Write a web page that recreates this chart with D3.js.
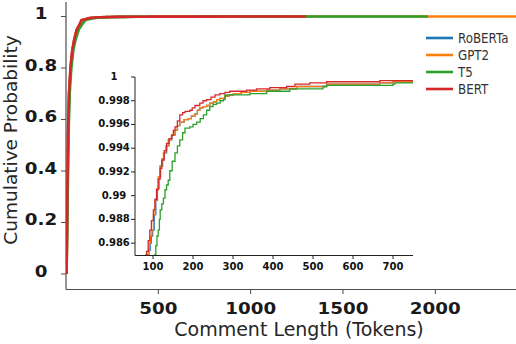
<!DOCTYPE html>
<html>
<head>
<meta charset="utf-8">
<script src="https://cdn.jsdelivr.net/npm/d3@7"></script>
<style>
  body { margin: 0; background: #fff; }
  text { font-family: "DejaVu Sans", Verdana, sans-serif; }
</style>
</head>
<body>
<script>
var models = ["RoBERTa", "GPT2", "T5", "BERT"];
var colors = ["#1f77b4", "#ff7f0e", "#2ca02c", "#d62728"];

var robertaTokens = [3, 8, 12, 17, 25, 35, 45, 60, 77, 88, 90, 93, 96, 99, 103, 107, 111, 115, 119, 124, 128, 134, 140, 147, 155, 161, 167, 178, 188, 196, 205, 211, 217, 225, 234, 242, 251, 259, 267, 280, 290, 301, 320, 342, 384, 417, 459, 534, 667, 700, 750, 1000, 1200];
var robertaProbs  = [0, 0.3, 0.55, 0.7, 0.8, 0.87, 0.91, 0.95, 0.97, 0.985, 0.9854, 0.9860, 0.9866, 0.9871, 0.9884, 0.9896, 0.9906, 0.9916, 0.9925, 0.9931, 0.9936, 0.9942, 0.9947, 0.9951, 0.9955, 0.9959, 0.9962, 0.9964, 0.9965, 0.9967, 0.9969, 0.9972, 0.9974, 0.9975, 0.9976, 0.9978, 0.9979, 0.9981, 0.9982, 0.9984, 0.9985, 0.9986, 0.9987, 0.9988, 0.9989, 0.9990, 0.9992, 0.9994, 0.9995, 0.9996, 0.9996, 0.9998, 1];

var gptTokens = [3, 8, 12, 17, 25, 35, 45, 60, 76, 86, 88, 91, 94, 97, 101, 105, 109, 113, 117, 122, 126, 132, 138, 146, 155, 161, 167, 178, 188, 196, 205, 211, 217, 225, 234, 242, 251, 259, 267, 280, 290, 301, 320, 342, 384, 417, 459, 534, 667, 700, 750, 1000, 1500, 2000, 2500];
var gptProbs  = [0, 0.3, 0.55, 0.7, 0.8, 0.87, 0.91, 0.95, 0.97, 0.985, 0.9854, 0.9860, 0.9866, 0.9871, 0.9884, 0.9896, 0.9906, 0.9916, 0.9925, 0.9931, 0.9936, 0.9942, 0.9947, 0.9951, 0.9955, 0.9959, 0.9962, 0.9964, 0.9965, 0.9967, 0.9969, 0.9972, 0.9974, 0.9975, 0.9976, 0.9978, 0.9979, 0.9981, 0.9982, 0.9984, 0.9985, 0.9986, 0.9987, 0.9988, 0.9989, 0.9990, 0.9992, 0.9994, 0.9995, 0.9996, 0.9996, 0.9998, 0.9999, 0.99995, 1];

var t5Tokens = [3, 9, 14, 20, 29, 40, 52, 70, 88, 104, 107, 110, 113, 116, 118, 122, 126, 130, 134, 138, 142, 148, 155, 161, 167, 174, 180, 192, 200, 209, 218, 226, 234, 242, 250, 259, 268, 276, 280, 317, 342, 384, 442, 525, 534, 700, 705, 750, 1000, 1500, 1960];
var t5Probs  = [0, 0.3, 0.55, 0.7, 0.8, 0.87, 0.91, 0.95, 0.97, 0.985, 0.9858, 0.9866, 0.9871, 0.9880, 0.9888, 0.9893, 0.9898, 0.9905, 0.9909, 0.9913, 0.9921, 0.9929, 0.9936, 0.9942, 0.9947, 0.9953, 0.9957, 0.9958, 0.9960, 0.9962, 0.9965, 0.9968, 0.9972, 0.9975, 0.9977, 0.9978, 0.9980, 0.9981, 0.9985, 0.9985, 0.9986, 0.9988, 0.9990, 0.9992, 0.9993, 0.9994, 0.9995, 0.9995, 0.9998, 0.9999, 1];

var bertTokens = [3, 7, 11, 16, 24, 34, 44, 58, 74, 82, 84, 88, 92, 96, 101, 105, 109, 113, 118, 122, 128, 134, 140, 147, 151, 155, 161, 167, 174, 180, 192, 198, 205, 217, 225, 234, 245, 255, 267, 280, 292, 334, 359, 392, 434, 455, 492, 534, 667, 750, 1000, 1300];
var bertProbs  = [0, 0.3, 0.55, 0.7, 0.8, 0.87, 0.91, 0.95, 0.97, 0.985, 0.9853, 0.9862, 0.9871, 0.9879, 0.9888, 0.9897, 0.9905, 0.9914, 0.9923, 0.9930, 0.9938, 0.9944, 0.9948, 0.9951, 0.9955, 0.9958, 0.9963, 0.9968, 0.9970, 0.9971, 0.9972, 0.9974, 0.9976, 0.9978, 0.9980, 0.9981, 0.9983, 0.9985, 0.9986, 0.9987, 0.9988, 0.9989, 0.9990, 0.9991, 0.9992, 0.9994, 0.9995, 0.9996, 0.9997, 0.9997, 0.9999, 1];

var mainXTicks = [500, 1000, 1500, 2000];
var mainYTicks = [0, 0.2, 0.4, 0.6, 0.8, 1];
var mainYLabels = ["0", "0.2", "0.4", "0.6", "0.8", "1"];
var insetXTicks = [100, 200, 300, 400, 500, 600, 700];
var insetYTicks = [0.986, 0.988, 0.99, 0.992, 0.994, 0.996, 0.998, 1];
var insetYLabels = ["0.986", "0.988", "0.99", "0.992", "0.994", "0.996", "0.998", "1"];

var tokenLists = [robertaTokens, gptTokens, t5Tokens, bertTokens];
var probLists = [robertaProbs, gptProbs, t5Probs, bertProbs];
var series = models.map(function(m, i){
    return { name: m, color: colors[i], pts: tokenLists[i].map(function(t, j){ return [t, probLists[i][j]]; }) };
});

var width = 516, height = 344;
var svg = d3.select("body").append("svg")
            .attr("width", width)
            .attr("height", height);

var x = d3.scaleLinear().domain([0, 2437]).range([66, 516]);
var y = d3.scaleLinear().domain([0, 1]).range([274, 16.5]);

var axisColor = "#4d4d4d";

// main axes, drawn by hand (the axis sits a bit below y=0 like the original)
svg.append("line").attr("x1", 66).attr("x2", 66).attr("y1", 2).attr("y2", 289.5)
   .attr("stroke", axisColor).attr("stroke-width", 1.2);
svg.append("line").attr("x1", 66).attr("x2", 516).attr("y1", 289.5).attr("y2", 289.5)
   .attr("stroke", axisColor).attr("stroke-width", 1.2);

svg.selectAll(".ytick").data(mainYTicks).enter().append("line")
   .attr("x1", 61).attr("x2", 66)
   .attr("y1", function(d){ return y(d); }).attr("y2", function(d){ return y(d); })
   .attr("stroke", axisColor);
svg.selectAll(".ylab").data(mainYTicks).enter().append("text")
   .attr("transform", function(d){ return "translate(41," + (y(d) + 2.5) + ") scale(1.22,1)"; })
   .attr("text-anchor", "middle")
   .attr("font-size", 15).attr("font-weight", "bold").attr("fill", "#1a1a1a")
   .text(function(d, i){ return mainYLabels[i]; });

svg.selectAll(".xtick").data(mainXTicks).enter().append("line")
   .attr("x1", function(d){ return x(d); }).attr("x2", function(d){ return x(d); })
   .attr("y1", 289.5).attr("y2", 294)
   .attr("stroke", axisColor);
svg.selectAll(".xlab").data(mainXTicks).enter().append("text")
   .attr("transform", function(d){ return "translate(" + x(d) + ",314) scale(1.22,1)"; })
   .attr("text-anchor", "middle")
   .attr("font-size", 15).attr("font-weight", "bold").attr("fill", "#1a1a1a")
   .text(function(d){ return d; });

svg.append("text").attr("x", 299).attr("y", 336)
   .attr("text-anchor", "middle").attr("font-size", 19).attr("fill", "#262626")
   .text("Comment Length (Tokens)");
svg.append("text")
   .attr("transform", "translate(17,140) rotate(-90)")
   .attr("text-anchor", "middle").attr("font-size", 18.5).attr("fill", "#262626")
   .text("Cumulative Probability");

// main curves
svg.append("clipPath").attr("id", "mainclip").append("rect")
   .attr("x", 66).attr("y", 0).attr("width", 450).attr("height", 289);
var mainLine = d3.line().x(function(d){ return x(d[0]); }).y(function(d){ return y(d[1]); });
svg.append("g").attr("clip-path", "url(#mainclip)")
   .selectAll("path").data(series).enter().append("path")
   .attr("d", function(d){ return mainLine(d.pts); })
   .attr("fill", "none")
   .attr("stroke", function(d){ return d.color; })
   .attr("stroke-width", 2.6)
   .attr("stroke-linejoin", "round");

// legend
var legend = svg.append("g");
series.forEach(function(s, i){
    var ly = 38 + i * 17;
    legend.append("line").attr("x1", 426).attr("x2", 453).attr("y1", ly).attr("y2", ly)
          .attr("stroke", s.color).attr("stroke-width", 2.6);
    legend.append("text")
          .attr("transform", "translate(458," + (ly + 5) + ") scale(0.88,1)")
          .attr("font-size", 13.5).attr("fill", "#333")
          .text(s.name);
});

// inset
var ix = d3.scaleLinear().domain([55, 750]).range([135, 413]);
var iy = d3.scaleLinear().domain([0.985, 1]).range([255, 77]);

svg.append("clipPath").attr("id", "insetclip").append("rect")
   .attr("x", 135).attr("y", 70).attr("width", 278).attr("height", 185);
var insetLine = d3.line().curve(d3.curveStepAfter)
   .x(function(d){ return ix(d[0]); }).y(function(d){ return iy(d[1]); });
svg.append("g").attr("clip-path", "url(#insetclip)")
   .selectAll("path").data(series).enter().append("path")
   .attr("d", function(d){ return insetLine(d.pts); })
   .attr("fill", "none")
   .attr("stroke", function(d){ return d.color; })
   .attr("stroke-width", 1.3);

svg.append("line").attr("x1", 135).attr("x2", 135).attr("y1", 77).attr("y2", 255.5)
   .attr("stroke", "#222").attr("stroke-width", 1);
svg.append("line").attr("x1", 135).attr("x2", 413).attr("y1", 255.5).attr("y2", 255.5)
   .attr("stroke", "#222").attr("stroke-width", 1);

svg.selectAll(".iytick").data(insetYTicks).enter().append("line")
   .attr("x1", 131).attr("x2", 135)
   .attr("y1", function(d){ return iy(d); }).attr("y2", function(d){ return iy(d); })
   .attr("stroke", "#222");
svg.selectAll(".iylab").data(insetYTicks).enter().append("text")
   .attr("x", 114).attr("y", function(d){ return iy(d) + 3; })
   .attr("text-anchor", "middle")
   .attr("font-size", 10).attr("font-weight", "bold").attr("fill", "#111")
   .text(function(d, i){ return insetYLabels[i]; });

svg.selectAll(".ixtick").data(insetXTicks).enter().append("line")
   .attr("x1", function(d){ return ix(d); }).attr("x2", function(d){ return ix(d); })
   .attr("y1", 255.5).attr("y2", 259)
   .attr("stroke", "#222");
svg.selectAll(".ixlab").data(insetXTicks).enter().append("text")
   .attr("x", function(d){ return ix(d); }).attr("y", 269.5)
   .attr("text-anchor", "middle")
   .attr("font-size", 10).attr("font-weight", "bold").attr("fill", "#111")
   .text(function(d){ return d; });
</script>
</body>
</html>
